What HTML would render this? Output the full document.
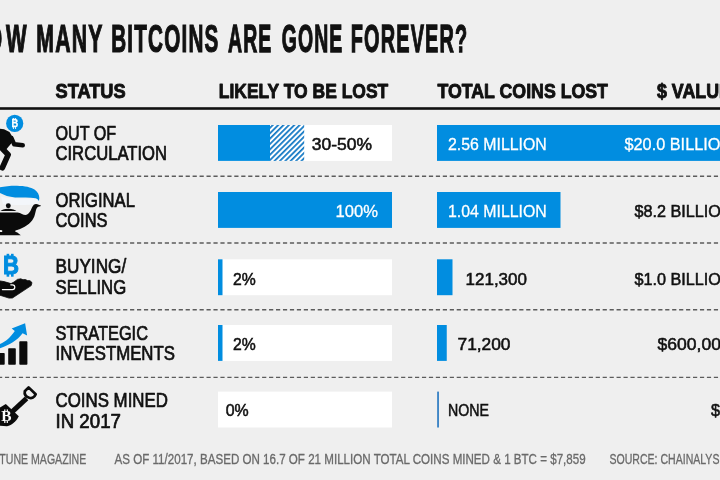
<!DOCTYPE html>
<html><head><meta charset="utf-8"><title>How many bitcoins are gone forever?</title>
<style>
html,body{margin:0;padding:0;background:#efefef;}
body{width:720px;height:480px;overflow:hidden;}
svg{display:block;will-change:transform;font-family:"Liberation Sans",sans-serif;}
</style></head><body>
<svg width="720" height="480" viewBox="0 0 720 480">
<defs>
<pattern id="hatch" width="3.8" height="3.8" patternUnits="userSpaceOnUse" patternTransform="translate(271.6,125) rotate(-45)">
<rect width="3.8" height="3.8" fill="#fff"/><rect width="3.8" height="1.75" fill="#1479c4"/>
</pattern>
</defs>
<rect width="720" height="480" fill="#efefef"/>
<text transform="translate(6.10,52.00) scale(0.5720,1)" font-size="38.11" font-weight="bold" fill="#111" stroke="#111" stroke-width="1.0" vector-effect="non-scaling-stroke">W</text>
<text transform="translate(-30.40,52.0) scale(0.5720,1)" font-size="38.11" font-weight="bold" fill="#111" stroke="#111" stroke-width="1.0" vector-effect="non-scaling-stroke">HO</text>
<text transform="translate(36.30,52.00) scale(0.5571,1)" font-size="38.11" font-weight="bold" fill="#111" letter-spacing="2.2" stroke="#111" stroke-width="1.0" vector-effect="non-scaling-stroke">MANY</text>
<text transform="translate(111.25,52.00) scale(0.5421,1)" font-size="38.11" font-weight="bold" fill="#111" letter-spacing="2.2" stroke="#111" stroke-width="1.0" vector-effect="non-scaling-stroke">BITCOINS</text>
<text transform="translate(228.00,52.00) scale(0.5100,1)" font-size="38.11" font-weight="bold" fill="#111" letter-spacing="2.2" stroke="#111" stroke-width="1.0" vector-effect="non-scaling-stroke">ARE</text>
<text transform="translate(281.70,52.00) scale(0.5100,1)" font-size="38.11" font-weight="bold" fill="#111" letter-spacing="2.2" stroke="#111" stroke-width="1.0" vector-effect="non-scaling-stroke">GONE</text>
<text transform="translate(350.70,52.00) scale(0.5231,1)" font-size="38.11" font-weight="bold" fill="#111" letter-spacing="2.2" stroke="#111" stroke-width="1.0" vector-effect="non-scaling-stroke">FOREVER?</text>
<text transform="translate(55.50,97.75) scale(0.9286,1)" font-size="19.64" font-weight="bold" fill="#111" stroke="#111" stroke-width="0.9" stroke-linejoin="round">STATUS</text>
<text transform="translate(218.75,97.75) scale(0.8894,1)" font-size="19.64" font-weight="bold" fill="#111" stroke="#111" stroke-width="0.9" stroke-linejoin="round">LIKELY TO BE LOST</text>
<text transform="translate(437.50,97.75) scale(0.9033,1)" font-size="19.64" font-weight="bold" fill="#111" stroke="#111" stroke-width="0.9" stroke-linejoin="round">TOTAL COINS LOST</text>
<text transform="translate(657.00,97.75) scale(0.9071,1)" font-size="19.64" font-weight="bold" fill="#111" stroke="#111" stroke-width="0.9" stroke-linejoin="round">$ VALUE LOST</text>
<rect x="0" y="107.2" width="720" height="2.6" fill="#111"/>
<text transform="translate(55.50,139.60) scale(0.8108,1)" font-size="19.93" font-weight="normal" fill="#111" stroke="#111" stroke-width="0.7" stroke-linejoin="round">OUT OF</text>
<text transform="translate(55.50,160.20) scale(0.8532,1)" font-size="19.49" font-weight="normal" fill="#111" stroke="#111" stroke-width="0.7" stroke-linejoin="round">CIRCULATION</text>
<text transform="translate(55.50,206.60) scale(0.8346,1)" font-size="19.93" font-weight="normal" fill="#111" stroke="#111" stroke-width="0.7" stroke-linejoin="round">ORIGINAL</text>
<text transform="translate(55.50,227.20) scale(0.8423,1)" font-size="19.49" font-weight="normal" fill="#111" stroke="#111" stroke-width="0.7" stroke-linejoin="round">COINS</text>
<text transform="translate(55.50,272.90) scale(0.8628,1)" font-size="19.93" font-weight="normal" fill="#111" stroke="#111" stroke-width="0.7" stroke-linejoin="round">BUYING/</text>
<text transform="translate(55.50,293.50) scale(0.8591,1)" font-size="19.49" font-weight="normal" fill="#111" stroke="#111" stroke-width="0.7" stroke-linejoin="round">SELLING</text>
<text transform="translate(55.50,339.60) scale(0.8219,1)" font-size="19.93" font-weight="normal" fill="#111" stroke="#111" stroke-width="0.7" stroke-linejoin="round">STRATEGIC</text>
<text transform="translate(55.50,360.20) scale(0.8620,1)" font-size="19.49" font-weight="normal" fill="#111" stroke="#111" stroke-width="0.7" stroke-linejoin="round">INVESTMENTS</text>
<text transform="translate(55.50,407.30) scale(0.8467,1)" font-size="19.93" font-weight="normal" fill="#111" stroke="#111" stroke-width="0.7" stroke-linejoin="round">COINS MINED</text>
<text transform="translate(55.50,427.90) scale(0.9595,1)" font-size="19.49" font-weight="normal" fill="#111" stroke="#111" stroke-width="0.7" stroke-linejoin="round">IN 2017</text>
<line x1="-2" x2="722" y1="176.2" y2="176.2" stroke="#5c5c5c" stroke-width="1.4" stroke-dasharray="4.2 2.75"/>
<line x1="-2" x2="722" y1="243" y2="243" stroke="#5c5c5c" stroke-width="1.4" stroke-dasharray="4.2 2.75"/>
<line x1="-2" x2="722" y1="309.75" y2="309.75" stroke="#5c5c5c" stroke-width="1.4" stroke-dasharray="4.2 2.75"/>
<line x1="-2" x2="722" y1="377.4" y2="377.4" stroke="#5c5c5c" stroke-width="1.4" stroke-dasharray="4.2 2.75"/>
<rect x="218" y="125" width="174" height="35.9" fill="#fff"/>
<rect x="218" y="192" width="174" height="35.9" fill="#fff"/>
<rect x="218" y="259.3" width="174" height="35.9" fill="#fff"/>
<rect x="218" y="325" width="174" height="35.9" fill="#fff"/>
<rect x="218" y="391.6" width="174" height="35.9" fill="#fff"/>
<rect x="218" y="125" width="52" height="35.9" fill="#018de0"/>
<rect x="270" y="125" width="34.2" height="35.9" fill="url(#hatch)"/>
<rect x="218" y="192" width="174" height="35.9" fill="#018de0"/>
<rect x="218" y="259.3" width="4.5" height="35.9" fill="#018de0"/>
<rect x="218" y="325" width="4.5" height="35.9" fill="#018de0"/>
<rect x="437" y="125" width="290" height="35.9" fill="#018de0"/>
<rect x="437" y="192" width="123.5" height="35.9" fill="#018de0"/>
<rect x="437" y="259.3" width="15.5" height="35.9" fill="#018de0"/>
<rect x="437" y="325" width="9.75" height="35.9" fill="#018de0"/>
<rect x="437.1" y="391.6" width="1.9" height="35.9" fill="#3f86c6"/>
<text transform="translate(311.75,150.45) scale(1.0097,1)" font-size="17.31" font-weight="normal" fill="#111" stroke="#111" stroke-width="0.55">30-50%</text>
<text transform="translate(335.50,217.45) scale(0.9601,1)" font-size="17.31" font-weight="normal" fill="#fff" stroke="#fff" stroke-width="0.3">100%</text>
<text transform="translate(233.00,284.75) scale(0.9096,1)" font-size="17.31" font-weight="normal" fill="#111" stroke="#111" stroke-width="0.55">2%</text>
<text transform="translate(233.00,350.45) scale(0.9096,1)" font-size="17.31" font-weight="normal" fill="#111" stroke="#111" stroke-width="0.55">2%</text>
<text transform="translate(225.75,415.85) scale(0.9196,1)" font-size="17.31" font-weight="normal" fill="#111" stroke="#111" stroke-width="0.55">0%</text>
<text transform="translate(448.00,150.45) scale(0.9169,1)" font-size="17.31" font-weight="normal" fill="#fff" stroke="#fff" stroke-width="0.3">2.56 MILLION</text>
<text transform="translate(448.00,217.45) scale(0.9169,1)" font-size="17.31" font-weight="normal" fill="#fff" stroke="#fff" stroke-width="0.3">1.04 MILLION</text>
<text transform="translate(465.50,284.75) scale(0.9829,1)" font-size="17.31" font-weight="normal" fill="#111" stroke="#111" stroke-width="0.55">121,300</text>
<text transform="translate(457.50,350.45) scale(1.0015,1)" font-size="17.31" font-weight="normal" fill="#111" stroke="#111" stroke-width="0.55">71,200</text>
<text transform="translate(448.00,415.85) scale(0.8196,1)" font-size="17.31" font-weight="normal" fill="#111" stroke="#111" stroke-width="0.55">NONE</text>
<text transform="translate(624.50,150.45) scale(0.9412,1)" font-size="17.31" font-weight="normal" fill="#fff" stroke="#fff" stroke-width="0.3">$20.0 BILLION</text>
<text transform="translate(634.50,217.45) scale(0.9363,1)" font-size="17.31" font-weight="normal" fill="#111" stroke="#111" stroke-width="0.55">$8.2 BILLION</text>
<text transform="translate(634.50,284.75) scale(0.9363,1)" font-size="17.31" font-weight="normal" fill="#111" stroke="#111" stroke-width="0.55">$1.0 BILLION</text>
<text transform="translate(657.50,350.45) scale(1.0148,1)" font-size="17.31" font-weight="normal" fill="#111" stroke="#111" stroke-width="0.55">$600,000,000</text>
<text transform="translate(711.00,415.85) scale(0.9363,1)" font-size="17.31" font-weight="normal" fill="#111" stroke="#111" stroke-width="0.55">$0</text>
<text transform="translate(114.50,463.90) scale(0.8389,1)" font-size="13.82" font-weight="normal" fill="#6a6a6a" stroke="#6a6a6a" stroke-width="0.3">AS OF 11/2017, BASED ON 16.7 OF 21 MILLION TOTAL COINS MINED &amp; 1 BTC = $7,859</text>
<text transform="translate(-22.78,463.9) scale(0.7653,1)" font-size="13.82" fill="#6a6a6a" stroke="#6a6a6a" stroke-width="0.3">FORTUNE MAGAZINE</text>
<text transform="translate(609.50,463.90) scale(0.7635,1)" font-size="13.82" font-weight="normal" fill="#6a6a6a" stroke="#6a6a6a" stroke-width="0.3">SOURCE: CHAINALYSIS</text>
<g id="icons">
<!-- 1: runner + coin -->
<g fill="#0b0b0b" stroke="#0b0b0b" stroke-linecap="round" stroke-linejoin="round">
<path d="M-2,128.6 L4,129.3 L9.5,132 L13.4,138.5 L11.2,143.5 L6.4,149.2 L-2,150 Z" stroke="none"/>
<path d="M11.5,138 L14.2,144.3 L22.8,145.2" fill="none" stroke-width="4.4"/>
<path d="M1.6,148 L8.2,154.7 L2.3,167.8" fill="none" stroke-width="5.6"/>
</g>
<circle cx="14.7" cy="123.4" r="8.6" fill="#018de0"/>
<g fill="#fff">
<text transform="translate(11.5,127.3) scale(0.86,1)" font-size="10.8" font-weight="bold" stroke="#fff" stroke-width="0.3">B</text>
<rect x="12.9" y="118.2" width="1.1" height="1.6"/><rect x="15" y="118.2" width="1.1" height="1.6"/>
<rect x="12.9" y="127.2" width="1.1" height="1.6"/><rect x="15" y="127.2" width="1.1" height="1.6"/>
</g>
<!-- 2: lamp + smoke -->
<path d="M1,196.5 C8,198.4 20,198.6 36,198.6 C38.5,199.5 39.3,201.5 39,203.5 C30,205.5 12,205.5 3,204 Z" fill="#f3f6fa"/>
<path d="M-2,187.8 C3,186.3 10,185.6 17,185.7 C25,185.9 31,187.2 34.5,189.6 C38,192 39.4,195.5 39.3,198.2 C39.2,199.5 39,200.3 38.6,200.9 C38.2,199.6 37.3,198.6 35.6,198.2 C30,197.3 22,197.9 15,197.4 C8,196.8 3,194.8 -2,191.8 Z" fill="#018de0"/>
<g fill="#0b0b0b">
<circle cx="8.3" cy="205.7" r="2.45"/>
<path d="M0.6,210.9 Q2,209.2 8.3,208.7 Q14.5,209.2 16.4,210.9 Z"/>
<path d="M-2,212.4 L17.5,212.4 C21,212.6 23,215 25.5,215 C28.5,215 30.5,211 32,207.5 C33,205 34.5,204 36,204 C38,204.2 39.5,205.2 41.3,205.8 C40,206.5 38.3,206.6 37.5,207.2 C36,208.5 36,211 34.3,216.5 C32.5,221.5 27,226.5 19.5,229.2 L15.4,230.4 L15.4,232 L17,232.2 L20.8,235.3 L-2,235.3 L-2,232.2 L2.2,232 L2.2,230.2 L-2,230 Z"/>
</g>
<!-- 3: bitcoin + hand -->
<g fill="#018de0">
<text transform="translate(3.1,274.4) scale(0.84,1)" font-size="26.4" font-weight="bold" stroke="#018de0" stroke-width="1.1">B</text>
<rect x="6.6" y="253.8" width="2.6" height="3"/><rect x="11" y="253.8" width="2.6" height="3"/>
<rect x="6.6" y="273.8" width="2.6" height="2.9"/><rect x="11" y="273.8" width="2.6" height="2.9"/>
</g>
<path d="M-2,280.6 L4,281.6 L11,283.6 L14,282 L17.4,279.4 L20.8,278.8 L23,279.7 L25.4,279.5 L27.4,280.6 L30,280.7 L32,282.6 L31.2,285.6 L12.4,298 L9,298.1 L-2,294.6 Z" fill="#0b0b0b" stroke="#0b0b0b" stroke-width="0.8" stroke-linejoin="round"/>
<path d="M2.4,289.6 L12.4,289.6 A2.4,2.4 0 0 0 12.4,284.8 L10.8,284.8" fill="none" stroke="#fff" stroke-width="1.2" stroke-linecap="round"/>
<!-- 4: chart + arrow -->
<g fill="#0b0b0b">
<rect x="-3" y="352.9" width="7.7" height="11.8" rx="0.8"/>
<rect x="8.2" y="348.2" width="7.6" height="16.5" rx="0.8"/>
<rect x="19.3" y="341.2" width="8.1" height="23.5" rx="0.8"/>
</g>
<path d="M-2,344.9 C5,342 10,338 14.8,330.9 L11.7,328.5 L25.1,323.3 L27.1,335.5 L22.6,333.3 C17,341 8,346 -2,348.8 Z" fill="#018de0"/>
<!-- 5: shovel -->
<g fill="none" stroke="#0b0b0b" stroke-linejoin="round" stroke-linecap="round">
<path d="M28.6,387.4 L35.7,394.2 C34.5,397.3 31.5,398.6 29.2,397.8 C26,396.6 24.2,394 24.8,391.2 Z" stroke-width="2.7"/>
<path d="M26.6,398.3 L12.6,411.4" stroke-width="5" stroke-linecap="butt"/>
</g>
<path d="M5.8,403.9 L18.8,416.2 C16,421.5 12,425 7,426.2 L-2,425.6 L-2,408.8 Z" fill="#0b0b0b"/>
<g fill="#fff" font-family="Liberation Serif, serif">
<text transform="translate(1.3,421.4) scale(1.0,1)" font-size="15.4" font-weight="bold" style='font-family:"Liberation Serif",serif'>B</text>
<rect x="4.2" y="409.4" width="1.2" height="2"/><rect x="6.7" y="409.4" width="1.2" height="2"/>
<rect x="4.2" y="421" width="1.2" height="2"/><rect x="6.7" y="421" width="1.2" height="2"/>
</g>
</g>

</svg>
</body></html>
